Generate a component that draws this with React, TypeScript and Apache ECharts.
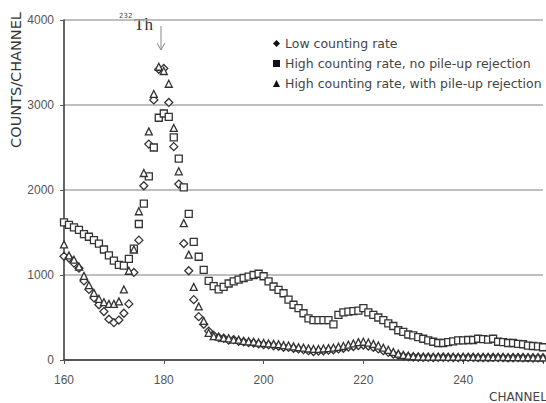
import React, { useEffect, useRef } from "react";
import * as echarts from "echarts";

const channels = [
  160, 161, 162, 163, 164, 165, 166, 167, 168, 169,
  170, 171, 172, 173, 174, 175, 176, 177, 178, 179,
  180, 181, 182, 183, 184, 185, 186, 187, 188, 189,
  190, 191, 192, 193, 194, 195, 196, 197, 198, 199,
  200, 201, 202, 203, 204, 205, 206, 207, 208, 209,
  210, 211, 212, 213, 214, 215, 216, 217, 218, 219,
  220, 221, 222, 223, 224, 225, 226, 227, 228, 229,
  230, 231, 232, 233, 234, 235, 236, 237, 238, 239,
  240, 241, 242, 243, 244, 245, 246, 247, 248, 249,
  250, 251, 252, 253, 254, 255, 256,
];

const lowRate = [
  1220, 1200, 1140, 1080, 930, 830, 730, 650, 570, 480,
  440, 470, 550, 660, 1030, 1410, 2050, 2540, 3060, 3420,
  3430, 3030, 2510, 2070, 1370, 1050, 710, 510, 420, 340,
  290, 265, 255, 235, 240, 220, 215, 205, 200, 190,
  180, 178, 168, 162, 150, 148, 138, 130, 122, 110,
  100, 106, 108, 116, 120, 130, 138, 152, 158, 170,
  176, 165, 150, 130, 110, 90, 70, 55, 45, 40,
  35, 32, 30, 31, 28, 30, 32, 30, 28, 27,
  28, 30, 30, 28, 27, 28, 30, 28, 27, 25,
  26, 28, 26, 25, 24, 25, 24,
];

const highNoRejection = [
  1620, 1590, 1560, 1530, 1480, 1450, 1410, 1370, 1300, 1230,
  1170, 1120, 1110, 1190, 1310, 1600, 1840, 2160, 2500, 2850,
  2900, 2860, 2620, 2370, 2030, 1720, 1390, 1215, 1060, 930,
  870, 830, 860, 900, 925, 945, 965, 980, 1000, 1015,
  985, 925, 865, 825, 785, 710, 650, 610, 550, 490,
  470, 470, 470, 470, 420, 530, 560, 570, 575, 580,
  610, 560, 530, 500, 470, 430, 400, 350, 330, 300,
  290, 270, 250, 230, 215, 200, 200, 210, 220, 230,
  230, 235, 235, 250, 245, 240, 250, 215, 210, 200,
  200, 190, 185, 170, 165, 160, 150,
];

const highWithRejection = [
  1360, 1230, 1180, 1100, 990, 880, 790, 720, 680, 660,
  660, 690, 830, 1050, 1300, 1750, 2200, 2690, 3130, 3450,
  3400, 3250, 2730, 2220, 1610, 1240, 860, 630, 460, 320,
  280, 275, 260, 255, 240, 240, 225, 220, 215, 205,
  200, 195, 190, 185, 175, 170, 160, 150, 145, 135,
  130, 130, 135, 140, 145, 155, 165, 180, 195, 210,
  215, 205, 190, 170, 145, 120, 95, 75, 60, 50,
  45, 42, 40, 40, 38, 40, 38, 37, 38, 36,
  38, 36, 37, 35, 36, 35, 34, 36, 35, 33,
  34, 33, 32, 33, 31, 32, 30,
];

const seriesNames = [
  "Low counting rate",
  "High counting rate, no pile-up rejection",
  "High counting rate, with pile-up rejection",
];
const seriesSymbols = ["diamond", "rect", "triangle"];
const seriesSizes = [8, 7, 7];
const seriesValues = [lowRate, highNoRejection, highWithRejection];

const yTicks = [0, 1000, 2000, 3000, 4000];
const xTicks = [160, 180, 200, 220, 240];

export default function App() {
  const ref = useRef<HTMLDivElement>(null);

  useEffect(() => {
    if (!ref.current) return;
    const chart = echarts.init(ref.current, undefined, { renderer: "svg" });
    const labelFont = "Liberation Sans";
    const option = {
      animation: false,
      backgroundColor: "#ffffff",
      grid: { left: 64, right: 0, top: 20, bottom: 43 },
      xAxis: {
        type: "value",
        min: xTicks[0],
        max: 256,
        interval: 20,
        axisLine: { show: true, lineStyle: { color: "#333", width: 1.5 } },
        axisTick: { show: true, length: 4, lineStyle: { color: "#555", width: 1 } },
        splitLine: { show: false },
        axisLabel: {
          margin: 14,
          fontSize: 12,
          color: "#555",
          fontFamily: labelFont,
          formatter: (v: number) => (xTicks.indexOf(v) >= 0 ? String(v) : ""),
        },
      },
      yAxis: {
        type: "value",
        min: yTicks[0],
        max: yTicks[yTicks.length - 1],
        interval: 1000,
        axisLine: { show: true, lineStyle: { color: "#333", width: 1.5 } },
        axisTick: { show: true, length: 4, lineStyle: { color: "#555", width: 1 } },
        splitLine: { show: true, lineStyle: { color: "#aaa", width: 1.5 } },
        axisLabel: {
          margin: 10,
          fontSize: 12,
          color: "#555",
          fontFamily: labelFont,
          formatter: (v: number) => String(v),
        },
      },
      legend: {
        orient: "vertical",
        left: 268,
        top: 32,
        itemWidth: 7,
        itemHeight: 7,
        itemGap: 7,
        textStyle: {
          fontFamily: "DejaVu Sans",
          fontSize: 12.5,
          color: "#444",
          lineHeight: 13,
        },
        data: seriesNames.map((n, i) => ({
          name: n,
          icon: seriesSymbols[i],
          itemStyle: { color: "#111", borderWidth: 0 },
        })),
      },
      graphic: [
        {
          type: "text",
          x: 16,
          y: 80,
          rotation: Math.PI / 2,
          style: {
            text: "COUNTS/CHANNEL",
            font: '14.5px "DejaVu Sans"',
            fill: "#333",
            textAlign: "center",
            textVerticalAlign: "middle",
          },
        },
        {
          type: "text",
          x: 489,
          y: 397,
          style: {
            text: "CHANNEL",
            font: '12px "DejaVu Sans"',
            fill: "#444",
            textAlign: "left",
            textVerticalAlign: "middle",
          },
        },
        {
          type: "text",
          x: 119,
          y: 16,
          style: {
            text: "232",
            font: '7px "DejaVu Sans"',
            fill: "#444",
            textAlign: "left",
            textVerticalAlign: "middle",
          },
        },
        {
          type: "text",
          x: 134,
          y: 24,
          style: {
            text: "Th",
            font: '17px "Liberation Serif"',
            fill: "#333",
            textAlign: "left",
            textVerticalAlign: "middle",
          },
        },
        {
          type: "line",
          shape: { x1: 161, y1: 26, x2: 161, y2: 50 },
          style: { stroke: "#888", lineWidth: 1 },
        },
        {
          type: "polyline",
          shape: { points: [[157, 43], [161, 50], [165, 43]] },
          style: { stroke: "#888", lineWidth: 1, fill: null },
        },
      ],
      series: seriesNames.map((n, i) => ({
        name: n,
        type: "scatter",
        symbol: seriesSymbols[i],
        symbolSize: seriesSizes[i],
        itemStyle: { color: "#ffffff", borderColor: "#333", borderWidth: 1.3, opacity: 1 },
        data: channels.map((c, j) => [c, seriesValues[i][j]]),
      })),
    };
    chart.setOption(option as any);
    return () => chart.dispose();
  }, []);

  return (
    <div
      ref={ref}
      style={{ position: "fixed", left: 0, top: 0, width: 546, height: 403 }}
    />
  );
}
